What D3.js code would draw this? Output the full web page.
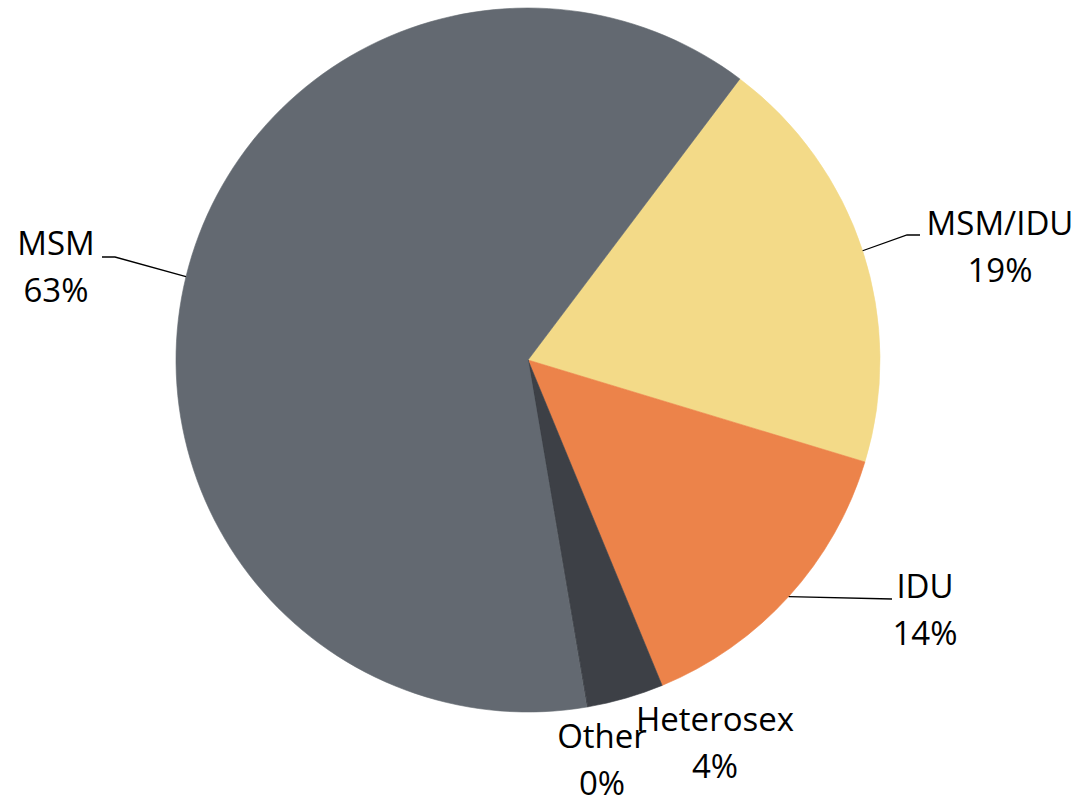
<!DOCTYPE html>
<html lang="en">
<head>
    <meta charset="utf-8">
    <title>Transmission category</title>
    <script src="https://d3js.org/d3.v7.min.js"></script>
    <style>
        body { margin: 0; background: #fff; }
        text { font-family: "Open Sans", sans-serif; font-size: 33px; fill: #000; }
    </style>
</head>
<body>
    <div id="container"></div>
    <script>
        var w = 1084;
        var h = 801;

        // data (order as drawn, clockwise)
        var categories = ["MSM/IDU", "IDU", "Heterosex", "Other", "MSM"];
        var values = [19.4, 14.1, 3.5, 0.05, 62.95];
        var shownPct = ["19%", "14%", "4%", "0%", "63%"];
        var colors = ["#f3da88", "#ec834a", "#3d4046", "#3d4046", "#636971"];

        // label layout: text centre / first baseline, and where the leader line meets the text
        var labelPos = [[1000, 235], [925, 598], [715, 731], [602, 748], [56, 255]];
        var leaderEnd = [[920, 235], [892, 599], null, null, [102, 257]];
        var leaderElbow = [[907, 235], null, null, null, [115, 257]];

        var cx = 528, cy = 360, r = 352;
        var startAngle = 37 * Math.PI / 180;

        const svg = d3.select("div#container")
            .append("svg")
            .attr("width", w)
            .attr("height", h);

        var pie = d3.pie()
            .sort(null)
            .startAngle(startAngle)
            .endAngle(startAngle + 2 * Math.PI)
            .value((d) => d);

        var arc = d3.arc().innerRadius(0).outerRadius(r);
        var arcs = pie(values);

        var g = svg.append("g").attr("transform", "translate(" + cx + "," + cy + ")");

        // a thin stroke in the slice's own colour hides the anti-aliasing seams
        g.selectAll("path")
            .data(arcs)
            .enter()
            .append("path")
            .attr("d", arc)
            .attr("fill", (d, i) => colors[i])
            .attr("stroke", (d, i) => colors[i])
            .attr("stroke-width", 0.6)
            .attr("stroke-linejoin", "round");

        // leader lines
        arcs.forEach(function (d, i) {
            if (!leaderEnd[i]) return;
            var a = (d.startAngle + d.endAngle) / 2;
            var pts = [[cx + r * Math.sin(a), cy - r * Math.cos(a)]];
            if (leaderElbow[i]) pts.push(leaderElbow[i]);
            pts.push(leaderEnd[i]);
            svg.append("polyline")
                .attr("points", pts.map((p) => p.join(",")).join(" "))
                .attr("fill", "none")
                .attr("stroke", "#000")
                .attr("stroke-width", 1.3);
        });

        // labels
        var labels = svg.selectAll("text.lbl")
            .data(categories)
            .enter()
            .append("text")
            .attr("class", "lbl")
            .attr("text-anchor", "middle")
            .attr("x", (d, i) => labelPos[i][0])
            .attr("y", (d, i) => labelPos[i][1]);
        labels.append("tspan")
            .attr("x", (d, i) => labelPos[i][0])
            .text((d) => d);
        labels.append("tspan")
            .attr("x", (d, i) => labelPos[i][0])
            .attr("dy", 47)
            .text((d, i) => shownPct[i]);
    </script>
</body>
</html>
